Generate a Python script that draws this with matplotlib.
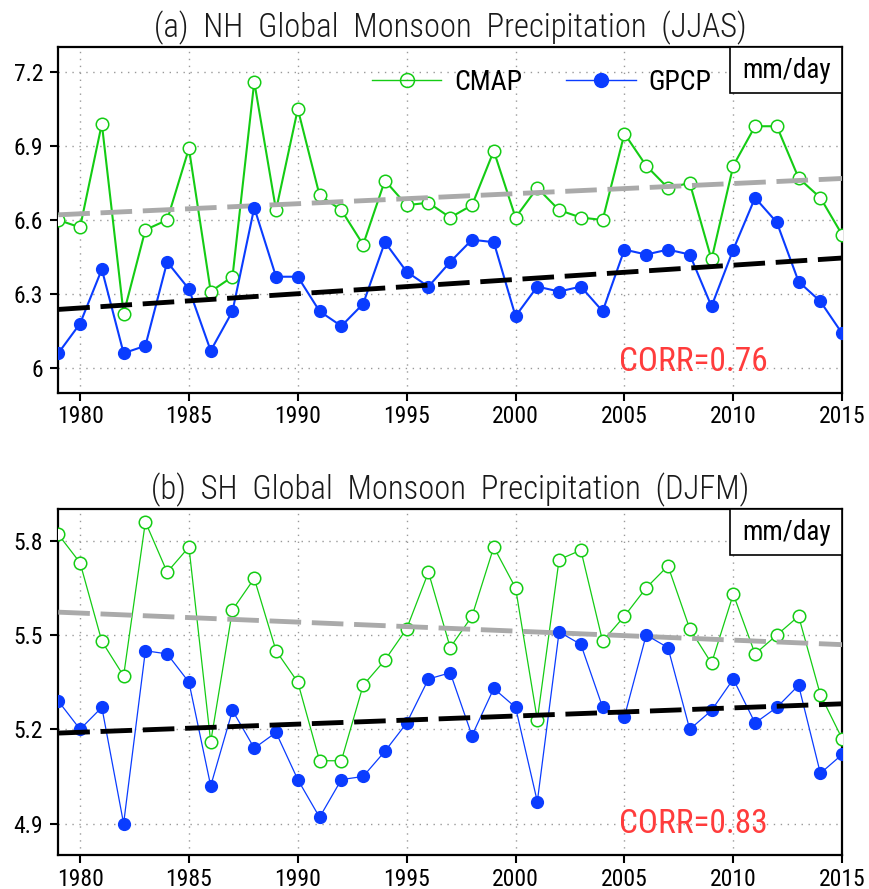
import numpy as np
import matplotlib
matplotlib.use("Agg")
import matplotlib.pyplot as plt
from matplotlib.lines import Line2D
from matplotlib.patches import Rectangle

years = np.arange(1979, 2016)

# (a) NH JJAS
cmap_nh = [6.60, 6.57, 6.99, 6.22, 6.56, 6.60, 6.89, 6.31, 6.37, 7.16,
           6.64, 7.05, 6.70, 6.64, 6.50, 6.76, 6.66, 6.67, 6.61, 6.66,
           6.88, 6.61, 6.73, 6.64, 6.61, 6.60, 6.95, 6.82, 6.73, 6.75,
           6.44, 6.82, 6.98, 6.98, 6.77, 6.69, 6.54]
gpcp_nh = [6.06, 6.18, 6.40, 6.06, 6.09, 6.43, 6.32, 6.07, 6.23, 6.65,
           6.37, 6.37, 6.23, 6.17, 6.26, 6.51, 6.39, 6.33, 6.43, 6.52,
           6.51, 6.21, 6.33, 6.31, 6.33, 6.23, 6.48, 6.46, 6.48, 6.46,
           6.25, 6.48, 6.69, 6.59, 6.35, 6.27, 6.14]

# (b) SH DJFM
cmap_sh = [5.82, 5.73, 5.48, 5.37, 5.86, 5.70, 5.78, 5.16, 5.58, 5.68,
           5.45, 5.35, 5.10, 5.10, 5.34, 5.42, 5.52, 5.70, 5.46, 5.56,
           5.78, 5.65, 5.23, 5.74, 5.77, 5.48, 5.56, 5.65, 5.72, 5.52,
           5.41, 5.63, 5.44, 5.50, 5.56, 5.31, 5.17]
gpcp_sh = [5.29, 5.20, 5.27, 4.90, 5.45, 5.44, 5.35, 5.02, 5.26, 5.14,
           5.19, 5.04, 4.92, 5.04, 5.05, 5.13, 5.22, 5.36, 5.38, 5.18,
           5.33, 5.27, 4.97, 5.51, 5.47, 5.27, 5.24, 5.50, 5.46, 5.20,
           5.26, 5.36, 5.22, 5.27, 5.34, 5.06, 5.12]

titles = ["(a)  NH  Global  Monsoon  Precipitation  (JJAS)",
          "(b)  SH  Global  Monsoon  Precipitation  (DJFM)"]
corr_labels = ["CORR=0.76", "CORR=0.83"]
yticks = [[6, 6.3, 6.6, 6.9, 7.2], [4.9, 5.2, 5.5, 5.8]]
ylims = [(5.9, 7.3), (4.8, 5.9)]
xticks = list(range(1980, 2016, 5))

green = "#14cc14"
blue = "#0a3cff"
red = "#ff3c3c"

plt.rcParams["font.family"] = ["Roboto Condensed", "DejaVu Sans"]

fig = plt.figure(figsize=(8.7, 8.89), dpi=100)
ax_a = fig.add_axes([0.067, 0.5583, 0.901, 0.3885])
ax_b = fig.add_axes([0.067, 0.0382, 0.901, 0.3889])

panels = [(ax_a, cmap_nh, gpcp_nh, 1.5), (ax_b, cmap_sh, gpcp_sh, 0.9)]

for i, (ax, cm, gp, lw) in enumerate(panels):
    # linear trends
    k1 = np.polyfit(years, cm, 1)
    k2 = np.polyfit(years, gp, 1)

    ax.plot(years, cm, color=green, lw=lw, marker="o", ms=9, mfc="white",
            mec=green, mew=1.1, zorder=3)
    ax.plot(years, np.polyval(k1, years), color="#aaaaaa", lw=3.5,
            dashes=(6.5, 2.2), zorder=4)
    ax.plot(years, gp, color=blue, lw=lw, marker="o", ms=8.5, mfc=blue,
            mec=blue, zorder=5)
    ax.plot(years, np.polyval(k2, years), color="black", lw=3.5,
            dashes=(6.5, 2.2), zorder=6)

    ax.set_xlim(1979, 2015)
    ax.set_ylim(*ylims[i])
    ax.set_xticks(xticks)
    ax.set_yticks(yticks[i])
    ax.set_yticklabels(["%g" % v for v in yticks[i]])
    ax.tick_params(direction="out", length=6, width=1.5, labelsize=17)
    ax.tick_params(axis="x", pad=3)
    ax.tick_params(axis="y", pad=5)
    for s in ax.spines.values():
        s.set_linewidth(1.6)
    ax.grid(True, ls=(0, (1, 4)), color="#999999", lw=1)
    ax.set_axisbelow(True)

    ax.text(0.5, 1.028, titles[i], transform=ax.transAxes, ha="center",
            va="baseline", fontsize=23.5, fontweight="light", color="#1a1a1a")
    ax.text(0.81, 0.09, corr_labels[i], transform=ax.transAxes, ha="center",
            va="center", fontsize=24, color=red, zorder=7)

    # unit box
    ax.add_patch(Rectangle((0.857, 0.867), 0.143, 0.133, transform=ax.transAxes,
                           fc="white", ec="black", lw=1.2, zorder=8,
                           clip_on=False))
    ax.text(0.9285, 0.933, "mm/day", transform=ax.transAxes, ha="center",
            va="center", fontsize=19.5, zorder=9)

handles = [Line2D([], [], color=green, lw=1, marker="o", ms=10, mfc="none",
                  mec=green, mew=1.1),
           Line2D([], [], color=blue, lw=1, marker="o", ms=10, mfc=blue,
                  mec=blue)]
ax_a.legend(handles, ["CMAP", "GPCP"], ncol=2, loc="center left",
            bbox_to_anchor=(0.400, 0.899), frameon=False, borderpad=0,
            borderaxespad=0, handlelength=2.5, handletextpad=0.45,
            columnspacing=1.6, prop={"size": 20})

fig.savefig("out.png", dpi=100)
